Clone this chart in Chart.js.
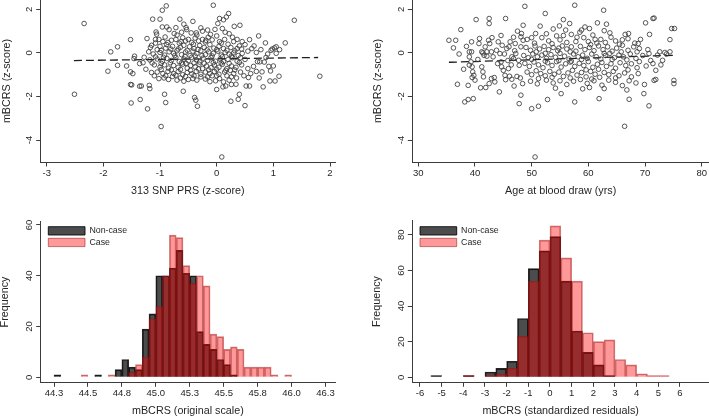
<!DOCTYPE html>
<html><head><meta charset="utf-8">
<script src="https://cdn.jsdelivr.net/npm/chart.js@4/dist/chart.umd.min.js"></script>
<style>
html,body{margin:0;padding:0;background:#fff;}
body{width:709px;height:417px;position:relative;overflow:hidden;}
canvas{position:absolute;}
</style></head><body>
<canvas id="c1" width="354" height="200" style="left:0;top:0"></canvas>
<canvas id="c2" width="354" height="200" style="left:355px;top:0"></canvas>
<canvas id="c3" width="354" height="217" style="left:0;top:200px"></canvas>
<canvas id="c4" width="354" height="217" style="left:355px;top:200px"></canvas>
<script>
// ---------------- DATA ----------------
const prsPoints = [
[-2.51,-1.90],[-2.34,1.35],[-1.92,-0.84],[-1.87,0.05],[-1.75,0.28],[-1.75,-0.57],[-1.59,-0.60],[-1.52,0.61],[-1.51,-2.30],[-1.52,-1.45],[-1.50,-1.47],[-1.35,-2.14],[-1.36,-1.53],[-1.33,-1.52],[-1.52,-0.87],[-1.48,-0.95],[-1.45,-0.15],[-1.46,-0.26],[-1.36,-0.49],[-1.22,-2.57],[-1.19,-1.49],[-1.18,-1.64],[-1.23,0.66],[-1.13,1.55],[-1.00,1.55],[-0.96,1.96],[-0.89,2.16],[-1.07,0.96],[-1.06,0.86],[-0.96,1.19],[-0.88,1.19],[-0.84,1.07],[-0.72,1.16],[-0.65,1.55],[-0.58,1.32],[-0.54,1.16],[-0.53,1.07],[-0.42,1.45],[-0.45,0.92],[-0.36,0.92],[-0.75,0.89],[-0.91,0.73],[-0.98,-3.38],[-0.92,-1.90],[-0.90,-2.28],[-0.59,-1.76],[-0.39,-2.05],[-0.37,-2.17],[-0.34,-2.45],[-0.06,2.19],[0.05,1.58],[0.21,1.81],[0.41,1.27],[1.37,1.50],[1.21,0.46],[1.02,0.23],[0.96,0.12],[0.86,0.46],[0.74,0.78],[0.66,0.32],[0.58,0.61],[1.82,-1.07],[1.10,-1.07],[1.03,-1.29],[0.94,-1.29],[0.95,-0.83],[0.87,-0.21],[0.80,-0.87],[0.75,-1.15],[0.82,-1.56],[0.58,-1.52],[0.52,-1.52],[0.50,-2.42],[0.38,-2.13],[0.40,-1.90],[0.25,-2.22],[0.09,-4.78],[0.26,-1.45],[0.34,-1.44],[0.00,-1.68],[0.11,-1.56],[0.16,-1.52],
[-0.16,1.05],[-0.11,0.85],[-0.03,1.08],[0.02,1.35],[0.12,1.52],[0.17,1.65],[0.22,0.88],[0.28,0.72],[0.31,1.22],[0.10,1.12],[-0.28,1.15],[-0.25,0.62],[-0.20,0.50],[0.36,0.62],[0.45,0.52],[0.50,0.38],[0.44,0.18],[0.55,0.08],[0.62,0.20],[0.70,0.02],[0.78,0.15],[0.90,-0.05],[0.98,0.18],[1.05,0.28],[0.72,-0.40],[0.65,-0.62],[0.70,-0.85],[0.60,-0.95],[0.55,-0.72],[0.48,-1.05],[0.42,-0.88],[0.35,-1.15],[0.30,-0.95],[0.22,-1.25],[0.18,-1.05],[0.12,-1.33],[0.05,-1.18],[-0.02,-1.28],[-0.08,-1.05],[-0.12,-1.32],[-0.20,-1.20],[-0.28,-1.10],[-0.35,-1.25],[-0.42,-1.18],[-0.50,-1.22],[-0.58,-1.30],[-0.64,-1.15],[-0.70,-1.25],[-0.78,-1.08],[-0.85,-1.22],[-0.93,-1.15],[-1.02,-1.18],[-1.10,-1.05],[-1.15,-0.90],[-1.25,-0.75],[-1.30,-0.45],[-1.28,-0.20],[-1.20,0.05],[-1.15,0.35],[-1.08,0.45],[-1.00,0.30],[-0.95,0.52],[-0.88,0.38],[-0.80,0.58],[-0.72,0.62],[-0.66,0.45],[-0.60,0.70],[-0.55,0.55],[-0.50,0.62],[-0.44,0.48],[-0.38,0.68],[-0.32,0.55],[-0.15,0.72],[-0.08,0.60],[0.00,0.78],[0.05,0.52],[0.14,0.62],[0.20,0.40],
[-1.05,0.15],[-0.90,0.22],[-0.78,0.30],[-0.68,0.18],[-0.58,0.35],[-0.48,0.28],[-0.40,0.20],[-0.30,0.34],[-0.22,0.25],[-0.12,0.38],[-0.05,0.22],[0.04,0.30],[0.12,0.20],[0.25,0.25],[0.32,0.10],[0.40,0.32],
[-1.12,-0.05],[-1.00,0.02],[-0.92,-0.10],[-0.84,0.05],[-0.76,-0.02],[-0.70,0.10],[-0.62,-0.08],[-0.55,0.04],[-0.47,-0.12],[-0.42,0.08],[-0.35,-0.03],[-0.28,0.10],[-0.20,-0.08],[-0.14,0.05],[-0.06,-0.02],[0.02,0.08],[0.08,-0.10],[0.15,0.02],[0.22,-0.06],[0.30,0.00],[0.38,-0.12],[0.45,-0.02],
[-1.18,-0.32],[-1.05,-0.28],[-0.96,-0.38],[-0.88,-0.25],[-0.80,-0.35],[-0.72,-0.22],[-0.66,-0.40],[-0.58,-0.28],[-0.50,-0.36],[-0.44,-0.20],[-0.36,-0.32],[-0.30,-0.42],[-0.24,-0.24],[-0.16,-0.36],[-0.10,-0.22],[-0.02,-0.38],[0.06,-0.28],[0.12,-0.40],[0.20,-0.30],[0.28,-0.22],[0.36,-0.38],[0.50,-0.30],
[-1.10,-0.55],[-1.00,-0.65],[-0.92,-0.55],[-0.85,-0.70],[-0.76,-0.58],[-0.68,-0.66],[-0.60,-0.52],[-0.52,-0.70],[-0.46,-0.58],[-0.38,-0.64],[-0.31,-0.52],[-0.25,-0.72],[-0.18,-0.60],[-0.10,-0.68],[-0.04,-0.55],[0.04,-0.66],[0.10,-0.52],[0.18,-0.72],[0.26,-0.60],[0.34,-0.66],[0.44,-0.55],
[-1.05,-0.88],[-0.95,-0.95],[-0.86,-0.85],[-0.76,-0.95],[-0.68,-0.86],[-0.60,-1.00],[-0.52,-0.90],[-0.44,-0.96],[-0.36,-0.85],[-0.28,-0.98],[-0.20,-0.88],[-0.12,-0.95],[-0.04,-0.85],[0.04,-0.98],[0.14,-0.88],[0.24,-0.80],
[-0.70,0.82],[-0.35,0.82],[-0.25,1.00],[0.15,0.95],[-1.17,0.25],[-1.02,0.62],[-0.62,0.95],[0.92,-0.62],[1.00,-0.60],[0.84,-0.42],[1.05,-0.02],[1.11,0.15],[0.56,-1.13],[0.76,-0.41],
[-1.08,0.62],[-0.86,0.48],[-0.63,0.52],[-0.41,0.40],[-0.19,0.58],[0.08,0.45],[0.30,0.52],
[-0.98,0.12],[-0.81,0.18],[-0.64,0.26],[-0.52,0.12],[-0.33,0.16],[-0.17,0.14],[0.00,0.15],[0.18,0.12],[0.36,0.20],
[-1.08,-0.18],[-0.94,-0.20],[-0.74,-0.12],[-0.56,-0.16],[-0.38,-0.14],[-0.26,-0.12],[-0.08,-0.14],[0.10,-0.18],[0.26,-0.14],[0.42,-0.22],
[-1.14,-0.46],[-0.98,-0.48],[-0.82,-0.45],[-0.62,-0.46],[-0.54,-0.48],[-0.40,-0.46],[-0.22,-0.48],[-0.06,-0.45],[0.08,-0.46],[0.22,-0.48],[0.40,-0.44],
[-0.98,-0.76],[-0.80,-0.78],[-0.64,-0.76],[-0.46,-0.80],[-0.32,-0.74],[-0.14,-0.78],[0.00,-0.75],[0.16,-0.80],[0.32,-0.78],
[-0.90,-1.05],[-0.72,-1.02],[-0.55,-1.08],[-0.40,-1.05],[-0.16,-1.10],[0.00,-1.05],[0.26,-1.10]
];
const prsFitX = [-2.52, 1.79];
const prsFitY = [-0.35, -0.21];

const agePoints = [
[35.4,0.58],[36.6,0.58],[36.2,0.23],[37.5,1.07],[36.9,-1.44],[38.2,-2.25],[38.8,-2.14],[39.7,-2.10],[38.8,-1.49],[39.4,0.51],[40.2,1.53],[40.8,0.66],[41.2,0.05],[41.8,0.28],[42.1,-0.15],[42.5,1.58],[42.5,1.35],[41.9,-1.59],[44.3,-1.79],[45.4,1.58],[47.8,-2.33],[48.8,2.14],[48.5,1.27],[50.0,-2.56],[50.6,-4.78],[51.2,-2.45],[52.4,1.81],[51.5,1.23],[50.7,0.89],[52.8,-2.14],[54.9,1.24],[55.6,1.53],[56.7,1.35],[57.6,2.19],[57.6,-2.25],[55.2,-1.87],[59.4,1.19],[61.6,1.38],[62.7,1.96],[63.2,1.32],[61.9,-2.10],[66.4,-3.37],[67.2,-2.13],[69.8,-1.87],[70.7,-2.43],[70.1,1.38],[71.4,1.58],[71.6,1.60],[70.7,-0.03],[69.9,-1.45],[71.6,-1.26],[71.9,-1.22],[71.4,-0.49],[71.9,-0.80],[72.6,0.05],[73.1,-0.34],[74.7,1.12],[75.2,1.12],[74.4,0.61],[74.4,0.05],[75.1,-1.26],[75.1,-1.41],[68.8,0.43],[67.1,0.89],
[39.0,0.05],[39.4,0.05],[39.0,-0.18],[39.3,-0.41],[39.0,-0.56],[39.5,-0.64],[39.6,-0.87],[39.8,-1.03],[39.5,-1.13],
[40.7,0.43],[41.4,0.0],[41.6,-0.11],[42.1,0.05],[41.2,-0.64],[41.4,-0.87],[41.5,-1.10],[42.5,-1.41],[42.9,-1.18],[43.4,-1.13],[43.5,-1.33],[42.4,0.58],[42.6,0.43],[42.9,0.05],[43.2,-0.18],[43.8,0.12],[44.1,0.51],[44.0,-0.49],[44.4,-0.03],[44.6,-0.41],[44.7,-0.64],[45.0,-0.80],[45.3,-1.03],[45.4,-1.23],[45.9,-0.72],[46.1,-1.07],[46.5,-1.21],[46.2,0.51],[46.0,0.28],[46.5,-0.18],[46.8,-0.26],[47.1,0.43],[47.2,-0.03],[47.7,-0.34],[47.8,-0.57],[48.1,0.28],[48.2,0.89],[48.1,0.74],[48.5,0.58],[46.9,-1.52],[48.1,-1.94],[48.4,-1.41],
[37.2,-0.05],[38.5,0.30],[38.0,-0.75],[40.5,-0.30],[40.0,-1.25],[45.6,0.20],[46.8,0.72],[45.8,-0.35],[47.4,-1.08],[43.0,0.70],[44.8,0.35],[41.0,-1.60],
[49.2,0.62],[50.5,0.45],[51.8,0.70],[53.0,0.55],[53.6,0.42],[54.4,0.78],[55.0,0.60],[56.2,0.48],[57.0,0.85],[57.8,0.52],[58.5,0.95],[59.2,0.70],[60.0,0.52],[60.8,0.82],[61.5,0.45],[62.2,0.62],[63.0,0.48],[64.0,0.72],[64.8,0.55],[65.5,0.40],[66.5,0.85],[67.0,0.65],[68.2,0.45],[62.8,1.02],[60.2,1.12],[56.0,1.05],[53.8,1.10],[58.8,1.05],
[49.0,0.25],[49.8,0.12],[50.6,0.32],[51.4,0.18],[52.2,0.30],[53.0,0.15],[53.8,0.25],[54.6,0.10],[55.4,0.32],[56.2,0.18],[57.0,0.28],[57.8,0.08],[58.6,0.30],[59.4,0.15],[60.2,0.25],[61.0,0.10],[61.8,0.32],[62.6,0.15],[63.4,0.28],[64.2,0.08],[65.0,0.22],[66.0,0.35],[67.0,0.12],[68.0,0.28],[69.0,0.20],
[48.6,-0.12],[49.4,-0.22],[50.2,-0.05],[51.0,-0.18],[51.8,-0.10],[52.6,-0.25],[53.4,-0.08],[54.2,-0.20],[55.0,-0.02],[55.8,-0.15],[56.6,-0.28],[57.4,-0.05],[58.2,-0.18],[59.0,-0.10],[59.8,-0.25],[60.6,-0.05],[61.4,-0.18],[62.2,-0.28],[63.0,-0.12],[63.8,-0.02],[64.6,-0.22],[65.4,-0.10],[66.2,-0.18],[67.4,-0.05],[68.4,-0.25],[69.6,-0.12],
[48.8,-0.48],[49.6,-0.62],[50.4,-0.42],[51.2,-0.55],[52.0,-0.68],[52.8,-0.45],[53.6,-0.58],[54.4,-0.40],[55.2,-0.65],[56.0,-0.50],[56.8,-0.42],[57.6,-0.62],[58.4,-0.48],[59.2,-0.58],[60.0,-0.40],[60.8,-0.66],[61.6,-0.52],[62.4,-0.44],[63.2,-0.62],[64.0,-0.50],[64.8,-0.70],[65.6,-0.45],[66.6,-0.58],[67.6,-0.50],[68.6,-0.68],
[49.2,-0.88],[50.0,-1.00],[50.8,-0.82],[51.6,-0.95],[52.4,-1.05],[53.2,-0.85],[54.0,-0.98],[54.8,-0.88],[55.6,-1.08],[56.4,-0.92],[57.2,-0.80],[58.0,-1.02],[58.8,-0.90],[59.6,-1.10],[60.4,-0.85],[61.2,-0.98],[62.0,-1.12],[62.8,-0.90],[63.6,-1.00],[64.4,-0.85],[65.4,-1.05],[66.4,-0.92],[67.6,-1.10],[68.8,-0.95],
[49.8,-1.30],[51.0,-1.42],[52.6,-1.25],[53.8,-1.38],[55.0,-1.28],[56.2,-1.45],[57.4,-1.30],[58.6,-1.22],[59.8,-1.40],[61.0,-1.28],[62.4,-1.48],[63.6,-1.25],[64.8,-1.35],[66.0,-1.50],[67.2,-1.28],[68.4,-1.38],
[59.0,-1.65],[60.2,-1.59],[54.2,-1.62],[62.8,-1.64],[66.8,-1.70],
[70.5,0.15],[71.0,-0.35],[72.2,-0.10],[73.5,0.02],[72.8,-0.55],[70.2,-0.60],[70.8,0.85],[73.8,-0.05],
[44.6,0.80],[47.5,1.00],[50.0,0.70],[52.6,0.88],[55.6,0.80],[58.0,0.72],[61.2,0.62],[63.8,0.92],[66.0,0.60],[69.2,0.62],
[45.2,-0.05],[47.0,0.10],[50.8,0.05],[52.4,-0.02],[54.8,0.22],[56.8,0.05],[58.8,-0.30],[60.4,0.38],[62.8,-0.02],[65.8,0.05],[68.6,0.05],
[46.4,-0.55],[50.0,-0.30],[52.4,-0.38],[54.8,-0.35],[57.0,-0.38],[59.6,-0.78],[61.8,-0.75],[64.2,-0.30],[66.8,-0.32],[69.0,-0.40],
[48.0,-1.15],[51.2,-1.18],[53.6,-1.12],[56.8,-1.15],[60.6,-1.20],[64.8,-1.15],[67.0,-0.78]
];
const ageFitX = [35.4, 75.0];
const ageFitY = [-0.43, -0.11];

const zTicks = [-4, -2, 0, 2];
const prsTicks = [-3, -2, -1, 0, 1, 2];
const ageTicks = [30, 40, 50, 60, 70, 80];

// histogram of mBCRS, original scale (bin lower edges, width 0.05)
const origBinStart = [44.25,44.30,44.35,44.40,44.45,44.50,44.55,44.60,44.65,44.70,44.75,44.80,44.85,44.90,44.95,45.00,45.05,45.10,45.15,45.20,45.25,45.30,45.35,45.40,45.45,45.50,45.55,45.60,45.65,45.70,45.75,45.80,45.85,45.90,45.95];
const origBinWidth = 0.05;
const origNonCase = [1,0,0,0,0,0,1,0,0,3,7,4,3,19,25,40,40,43,50,41,40,18,13,11,7,5,1,0,0,0,0,0,0,0,0];
const origCase    = [0,0,0,0,1,0,0,0,1,0,0,2,5,8,23,28,40,56,55,44,37,40,36,17,16,11,12,11,4,4,4,4,1,0,1];
const origTicks = [44.25,44.5,44.75,45.0,45.25,45.5,45.75,46.0,46.25];
const origTickLabels = ['44.3','44.5','44.8','45.0','45.3','45.5','45.8','46.0','46.3'];
const freqTicksA = [0, 20, 40, 60];

// histogram of standardized residuals (bin lower edges, width 0.5)
const residBinStart = [-5.5,-5.0,-4.5,-4.0,-3.5,-3.0,-2.5,-2.0,-1.5,-1.0,-0.5,0.0,0.5,1.0,1.5,2.0,2.5,3.0,3.5,4.0,4.5,5.0];
const residBinWidth = 0.5;
const residNonCase = [1,0,0,1,0,3,5,9,33,61,71,79,54,26,14,7,1,0,0,0,0,0];
const residCase    = [0,0,0,1,0,1,2,5,23,54,77,85,67,54,25,20,21,10,7,2,1,1];
const residTicks = [-6,-5,-4,-3,-2,-1,0,1,2,3,4,5,6];
const freqTicksB = [0, 20, 40, 60, 80];

// ---------------- STYLE ----------------
const FONT = '"Liberation Sans", Arial, Helvetica, sans-serif';
const AX = '#3c3c3c';
const TXT = '#262626';
const TICK_FONT = 9.5;
const TITLE_FONT = 10.75;

function xAxis(o) {
  return {
    type: 'linear', position: 'bottom', min: o.min, max: o.max, offset: false,
    afterBuildTicks: s => { s.ticks = o.ticks.map(v => ({ value: v })); },
    afterFit: s => { s.height = o.height; },
    border: { display: true, color: AX, width: 1 },
    grid: { display: true, offset: false, drawOnChartArea: false, drawTicks: true, tickLength: 4.5, color: AX, tickWidth: 1 },
    ticks: { autoSkip: false, maxRotation: 0, minRotation: 0, padding: 1.3, color: TXT,
      font: { family: FONT, size: TICK_FONT },
      callback: (v, i) => o.labels ? o.labels[i] : String(o.ticks[i]) },
    title: { display: true, text: o.title, color: TXT, font: { family: FONT, size: TITLE_FONT, lineHeight: 1 },
      padding: { top: 0, bottom: o.titlePad } }
  };
}
function yAxis(o) {
  return {
    type: 'linear', position: 'left', min: o.min, max: o.max,
    afterBuildTicks: s => { s.ticks = o.ticks.map(v => ({ value: v })); },
    afterFit: s => { s.width = o.width; },
    border: { display: true, color: AX, width: 1 },
    grid: { display: true, drawOnChartArea: false, drawTicks: true, tickLength: 4.5, color: AX, tickWidth: 1 },
    ticks: { display: false, callback: (v, i) => String(o.ticks[i]) },
    title: { display: true, text: o.title, color: TXT, font: { family: FONT, size: TITLE_FONT, lineHeight: 1 },
      padding: { top: o.titlePad, bottom: 0 } }
  };
}

// rotated y tick labels (R style, parallel to the axis)
const rotatedYLabels = {
  id: 'rotatedYLabels',
  afterDraw(chart) {
    const s = chart.scales.y, ctx = chart.ctx;
    ctx.save();
    ctx.font = TICK_FONT + 'px ' + FONT;
    ctx.fillStyle = TXT;
    ctx.textAlign = 'center';
    ctx.textBaseline = 'middle';
    s.ticks.forEach(t => {
      const y = s.getPixelForValue(t.value);
      ctx.save();
      ctx.translate(s.right - 11, y);
      ctx.rotate(-Math.PI / 2);
      ctx.fillText(t.label, 0, 0);
      ctx.restore();
    });
    ctx.restore();
  }
};
// place the in-plot legend relative to the chart area
const legendNudge = {
  id: 'legendNudge',
  afterLayout(chart, args, opts) {
    const lg = chart.legend, ca = chart.chartArea;
    if (lg && opts) {
      lg.left = ca.left + (opts.dx || 0);
      lg.top = ca.top + (opts.dy || 0);
      lg.bottom = ca.bottom;
    }
  }
};

function scatterChart(id, pts, fitX, fitY, xo, yo, padRight) {
  return new Chart(document.getElementById(id), {
    type: 'scatter',
    data: {
      datasets: [
        { data: pts.map(p => ({ x: p[0], y: p[1] })), pointRadius: 2.3, pointHoverRadius: 2.3,
          pointBorderWidth: 0.85, borderColor: '#3a3a3a', pointBackgroundColor: 'rgba(0,0,0,0)',
          backgroundColor: 'rgba(0,0,0,0)', clip: false },
        { type: 'line', data: fitX.map((x, i) => ({ x, y: fitY[i] })), borderColor: '#1e1e1e',
          borderWidth: 1.3, borderDash: [8, 4], pointRadius: 0, fill: false, showLine: true, clip: false }
      ]
    },
    options: {
      responsive: false, animation: false, events: [],
      layout: { autoPadding: false, padding: { left: 0, top: 0, right: padRight, bottom: 0 } },
      plugins: { legend: { display: false }, tooltip: { enabled: false } },
      scales: { x: xAxis(xo), y: yAxis(yo) }
    },
    plugins: [rotatedYLabels]
  });
}

function histChart(id, starts, w, nonCase, cases, xo, yo, padTop, padRight, nudge) {
  const toData = arr => starts.map((s, i) => ({ x: s + w / 2, y: arr[i] })).filter(d => d.y > 0);
  return new Chart(document.getElementById(id), {
    type: 'bar',
    data: {
      datasets: [
        { label: 'Non-case', data: toData(nonCase), backgroundColor: 'rgba(0,0,0,0.70)',
          borderColor: 'rgba(0,0,0,0.85)', borderWidth: 1, grouped: false,
          barPercentage: 1, categoryPercentage: 1, order: 1 },
        { label: 'Case', data: toData(cases), backgroundColor: 'rgba(255,0,0,0.40)',
          borderColor: 'rgba(150,20,20,0.55)', borderWidth: 1, grouped: false,
          barPercentage: 1, categoryPercentage: 1, order: 0 }
      ]
    },
    options: {
      responsive: false, animation: false, events: [],
      layout: { autoPadding: false, padding: { left: 0, top: padTop, right: padRight, bottom: 0 } },
      plugins: {
        tooltip: { enabled: false },
        legend: { display: true, position: 'chartArea', align: 'start',
          labels: { boxWidth: 36.7, boxHeight: 8.3, padding: 2.8, color: TXT,
            font: { family: FONT, size: 8.8 },
            sort: (a, b) => a.datasetIndex - b.datasetIndex } },
        legendNudge: nudge
      },
      scales: { x: xAxis(xo), y: yAxis(yo) }
    },
    plugins: [rotatedYLabels, legendNudge]
  });
}

scatterChart('c1', prsPoints, prsFitX, prsFitY,
  { min: -3.106, max: 2.088, ticks: prsTicks, title: '313 SNP PRS (z-score)', height: 38, titlePad: 3.6 },
  { min: -5.01, max: 2.43, ticks: zTicks, title: 'mBCRS (z-score)', width: 40.7, titlePad: 1.3 }, 19);

scatterChart('c2', agePoints, ageFitX, ageFitY,
  { min: 28.94, max: 81.29, ticks: ageTicks, title: 'Age at blood draw (yrs)', height: 38, titlePad: 3.6 },
  { min: -5.01, max: 2.43, ticks: zTicks, title: 'mBCRS (z-score)', width: 57.3, titlePad: 17.9 }, 0);

histChart('c3', origBinStart, origBinWidth, origNonCase, origCase,
  { min: 44.152, max: 46.32, ticks: origTicks, labels: origTickLabels, title: 'mBCRS (original scale)', height: 34.7, titlePad: 0.9 },
  { min: -1.97, max: 61.3, ticks: freqTicksA, title: 'Frequency', width: 40.7, titlePad: 0 },
  21.7, 19, { dx: 4.8, dy: 1.95 });

histChart('c4', residBinStart, residBinWidth, residNonCase, residCase,
  { min: -6.355, max: 7.34, ticks: residTicks, title: 'mBCRS (standardized residuals)', height: 34.7, titlePad: 0.9 },
  { min: -2.8, max: 87.9, ticks: freqTicksB, title: 'Frequency', width: 57.3, titlePad: 16.3 },
  20.7, 0, { dx: 4.9, dy: 2.95 });
</script>
</body></html>
